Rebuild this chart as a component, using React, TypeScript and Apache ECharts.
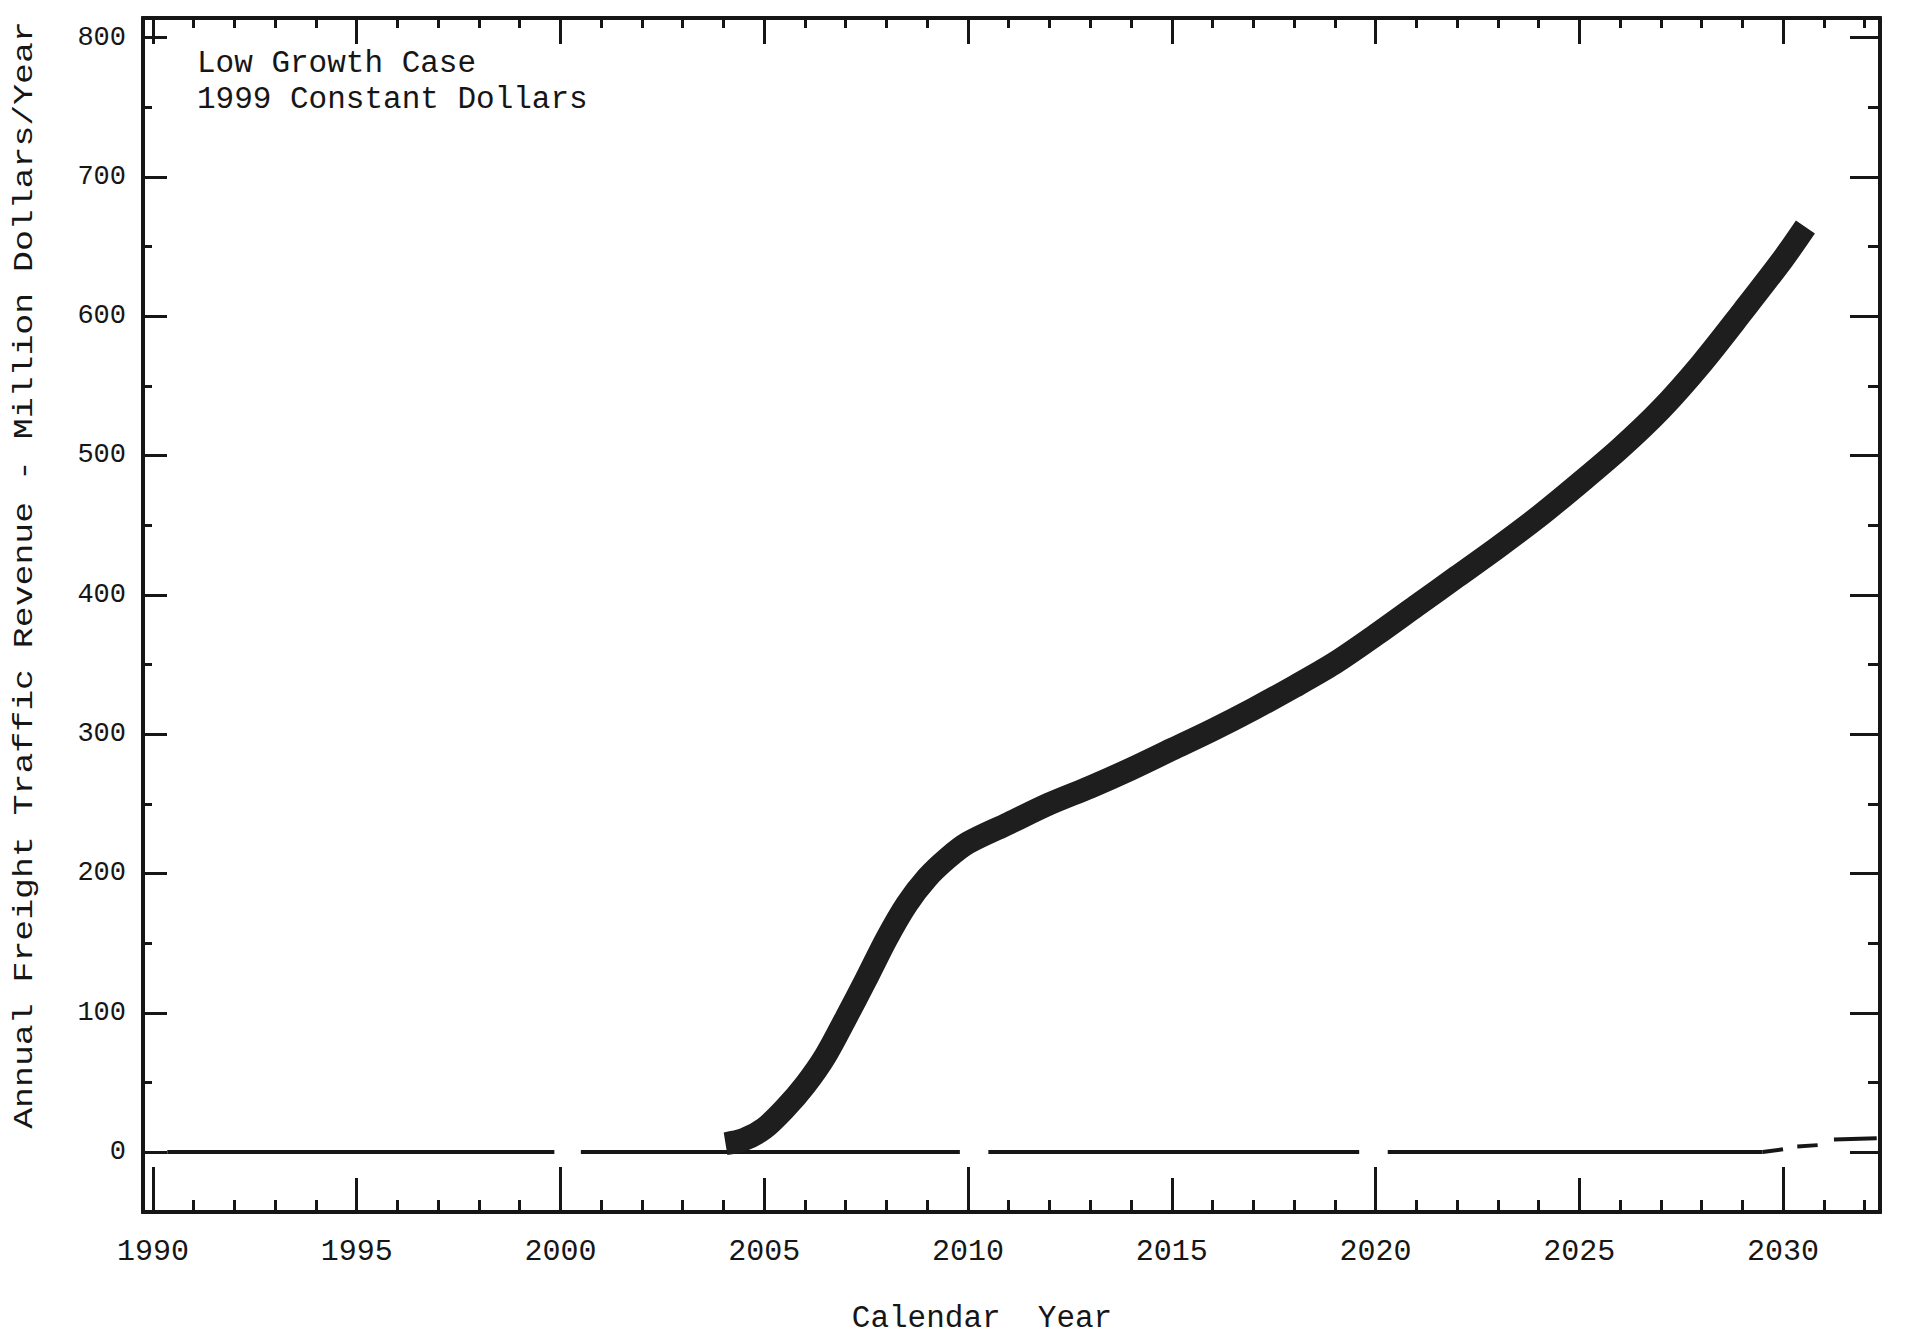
import React, { useEffect, useRef } from "react";
import * as echarts from "echarts";

// ---- data ----
const xLabelYears = [1990, 1995, 2000, 2005, 2010, 2015, 2020, 2025, 2030];
const xDecadeYears = [1990, 2000, 2010, 2020, 2030];
const xMinorYears = [
  1990, 1991, 1992, 1993, 1994, 1995, 1996, 1997, 1998, 1999, 2000, 2001, 2002, 2003,
  2004, 2005, 2006, 2007, 2008, 2009, 2010, 2011, 2012, 2013, 2014, 2015, 2016, 2017,
  2018, 2019, 2020, 2021, 2022, 2023, 2024, 2025, 2026, 2027, 2028, 2029, 2030, 2031, 2032,
];
const yLabelValues = [0, 100, 200, 300, 400, 500, 600, 700, 800];
const yHalfValues = [50, 150, 250, 350, 450, 550, 650, 750];

const curveYears = [
  2004.05, 2004.5, 2005, 2005.5, 2006, 2006.5, 2007, 2007.5, 2008, 2008.5, 2009, 2009.5,
  2010, 2011, 2012, 2013, 2014, 2015, 2016, 2017, 2018, 2019, 2020, 2021, 2022, 2023,
  2024, 2025, 2026, 2027, 2028, 2029, 2030, 2030.55,
];
const curveValues = [
  6, 9, 17, 31, 48, 69, 96, 124, 153, 178, 197, 211,
  222, 236, 250, 262, 275, 289, 303, 318, 334, 351, 371, 392, 413, 434,
  456, 480, 505, 533, 566, 603, 641, 664,
];

// zero baseline pieces (start year, end year) as drawn by the plotter
const zeroSegStarts = [1990.35, 2000.5, 2010.5, 2020.3];
const zeroSegEnds = [1999.85, 2009.8, 2019.6, 2029.5];
// short dashes near the right end (years, values)
const tailDashYears = [[2029.5, 2030.0], [2030.35, 2030.85], [2031.25, 2032.3]];
const tailDashValues = [[0, 2], [4, 5], [9, 10]];

const titleLines = ["Low Growth Case", "1999 Constant Dollars"];
const xTitle = "Calendar  Year";
const yTitle = "Annual Freight Traffic Revenue - Million Dollars/Year";

// ---- style ----
const INK = "#161616";
const MONO = "'Liberation Mono', 'DejaVu Sans Mono', monospace";
const X_MIN = 1989.755;
const X_MAX = 2032.38;
const Y_MIN = -43;
const Y_MAX = 814;

function xAxisDef(position: string, ticks: number[], len: number, labels: boolean) {
  return {
    type: "value",
    min: X_MIN,
    max: X_MAX,
    position,
    axisLine: { show: true, onZero: false, lineStyle: { color: INK, width: 4 } },
    axisTick: {
      show: true,
      inside: true,
      length: len,
      customValues: ticks,
      lineStyle: { color: INK, width: 3 },
    },
    axisLabel: labels
      ? {
          show: true,
          customValues: xLabelYears,
          formatter: (v: number) => String(v),
          margin: 25,
          color: INK,
          fontFamily: MONO,
          fontSize: 30,
        }
      : { show: false },
    splitLine: { show: false },
  };
}

function yAxisDef(position: string, ticks: number[], len: number, labels: boolean) {
  return {
    type: "value",
    min: Y_MIN,
    max: Y_MAX,
    position,
    axisLine: { show: true, onZero: false, lineStyle: { color: INK, width: 4 } },
    axisTick: {
      show: true,
      inside: true,
      length: len,
      customValues: ticks,
      lineStyle: { color: INK, width: 3 },
    },
    axisLabel: labels
      ? {
          show: true,
          customValues: yLabelValues,
          formatter: (v: number) => String(v),
          margin: 17,
          color: INK,
          fontFamily: MONO,
          fontSize: 27,
        }
      : { show: false },
    splitLine: { show: false },
  };
}

export default function App() {
  const ref = useRef<HTMLDivElement>(null);

  useEffect(() => {
    if (!ref.current) return;
    const chart = echarts.init(ref.current, undefined, { renderer: "svg" });

    const series: any[] = [];
    zeroSegStarts.forEach((s, i) => {
      series.push({
        type: "line",
        xAxisIndex: 0,
        yAxisIndex: 0,
        data: [
          [s, 0],
          [zeroSegEnds[i], 0],
        ],
        showSymbol: false,
        lineStyle: { color: INK, width: 4 },
        z: 2,
      });
    });
    tailDashYears.forEach((ys, i) => {
      series.push({
        type: "line",
        xAxisIndex: 0,
        yAxisIndex: 0,
        data: [
          [ys[0], tailDashValues[i][0]],
          [ys[1], tailDashValues[i][1]],
        ],
        showSymbol: false,
        lineStyle: { color: INK, width: 4 },
        z: 2,
      });
    });
    series.push({
      type: "line",
      xAxisIndex: 0,
      yAxisIndex: 0,
      data: curveYears.map((y, i) => [y, curveValues[i]]),
      smooth: 0.3,
      showSymbol: false,
      lineStyle: { color: "#1e1e1e", width: 23 },
      z: 3,
    });

    chart.setOption({
      animation: false,
      backgroundColor: "#ffffff",
      grid: { left: 143, right: 39, top: 18, bottom: 127, containLabel: false },
      xAxis: [
        xAxisDef("bottom", xLabelYears, 34, true),
        xAxisDef("bottom", xDecadeYears, 45, false),
        xAxisDef("bottom", xMinorYears, 12, false),
        xAxisDef("top", xLabelYears, 26, false),
        xAxisDef("top", xMinorYears, 10, false),
      ],
      yAxis: [
        yAxisDef("left", yLabelValues, 24, true),
        yAxisDef("left", yHalfValues, 9, false),
        yAxisDef("right", yLabelValues, 30, false),
        yAxisDef("right", yHalfValues, 12, false),
      ],
      series,
      graphic: [
        {
          type: "text",
          x: 197,
          y: 48,
          style: {
            text: titleLines[0],
            font: `31px ${MONO}`,
            fill: INK,
            verticalAlign: "top",
          },
        },
        {
          type: "text",
          x: 197,
          y: 84,
          style: {
            text: titleLines[1],
            font: `31px ${MONO}`,
            fill: INK,
            verticalAlign: "top",
          },
        },
        {
          type: "text",
          x: 982,
          y: 1318,
          style: {
            text: xTitle,
            font: `31px ${MONO}`,
            fill: INK,
            align: "center",
            verticalAlign: "middle",
          },
        },
        {
          type: "text",
          x: 25,
          y: 575,
          rotation: Math.PI / 2,
          scaleX: 1.29,
          style: {
            text: yTitle,
            font: `27px ${MONO}`,
            fill: INK,
            align: "center",
            verticalAlign: "middle",
          },
        },
      ],
    });

    return () => chart.dispose();
  }, []);

  return (
    <div
      ref={ref}
      style={{
        position: "fixed",
        left: 0,
        top: 0,
        width: 1919,
        height: 1339,
        background: "#ffffff",
      }}
    />
  );
}
